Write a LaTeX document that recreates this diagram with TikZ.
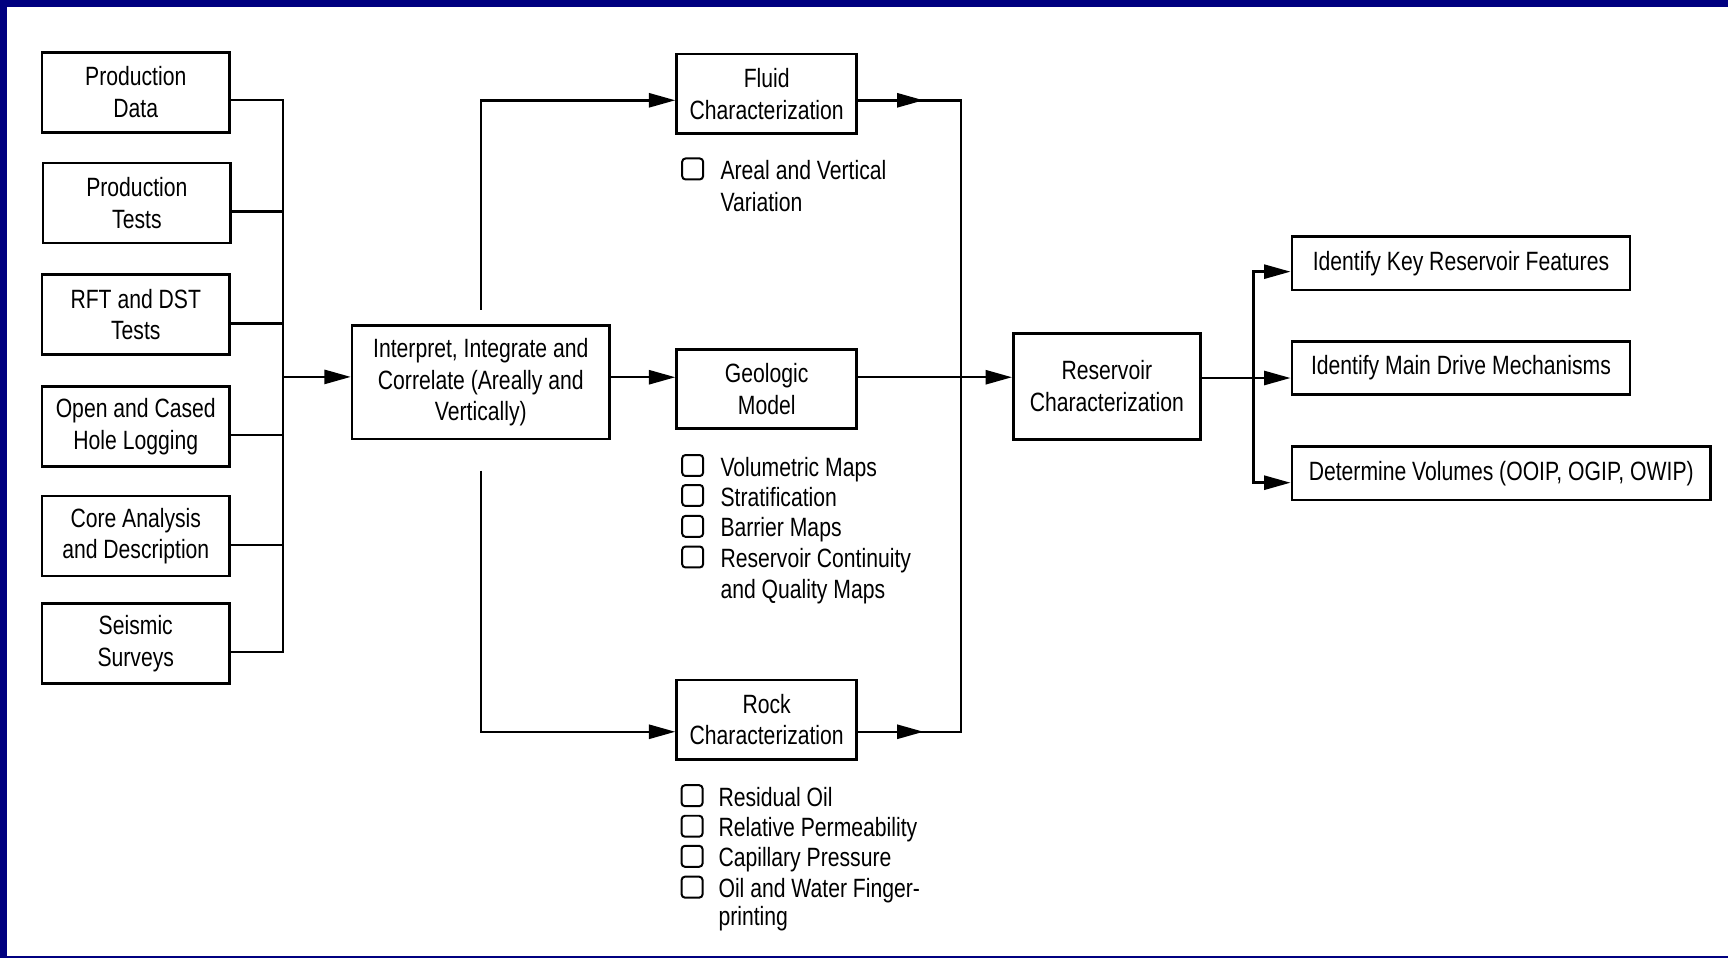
\documentclass[tikz,border=0pt]{standalone}
\usepackage{fontspec}
\setmainfont{Liberation Sans}[FakeStretch=0.8]
\usetikzlibrary{arrows.meta}
\definecolor{frameblue}{RGB}{0,0,128}
\tikzset{
  box/.style={draw, line width=1.2pt, align=center, inner sep=2pt},
  srcbox/.style={box, minimum width=85.2pt, minimum height=36.3pt},
  stagebox/.style={box, minimum width=81.7pt, minimum height=36pt},
  goalbox/.style={box, anchor=west, minimum height=24.2pt, inner xsep=4pt},
  link/.style={line width=1.1pt},
  arr/.style={link, -{Triangle[length=12pt,width=6.4pt]}},
  chk/.style={draw, line width=0.9pt, rounded corners=1.5pt, minimum size=9.5pt, inner sep=0pt},
  item/.style={anchor=base west, inner sep=0pt}
}
\begin{document}
\begin{tikzpicture}[x=0.5pt,y=-0.5pt,font=\fontsize{12}{14.4}\selectfont]
    \useasboundingbox (0,0) rectangle (1568,869);
    % frame
    \fill[frameblue] (0,0) rectangle (1568,6.3);
    \fill[frameblue] (0,0) rectangle (6.3,869);
    \fill[frameblue] (0,867.2) rectangle (1568,869);

    % Data sources
    \node[srcbox] (proddata) at (123.2,83.7) {Production\\Data};
    \node[srcbox] (prodtest) at (124.2,184.2) {Production\\Tests};
    \node[srcbox] (rft) at (123.2,285.4) {RFT and DST\\Tests};
    \node[srcbox] (logging) at (123.2,386.9) {Open and Cased\\Hole Logging};
    \node[srcbox] (core) at (123.2,486.4) {Core Analysis\\and Description};
    \node[srcbox] (seismic) at (123.2,583.8) {Seismic\\Surveys};

    % Interpretation and characterization stages
    \node[box, minimum width=116.8pt, minimum height=51.5pt] (interp) at (436.3,347) {Interpret, Integrate and\\Correlate (Areally and\\Vertically)};
    \node[stagebox] (fluid) at (695.7,85) {Fluid\\Characterization};
    \node[stagebox] (geo) at (695.7,353.1) {Geologic\\Model};
    \node[stagebox] (rock) at (695.7,653) {Rock\\Characterization};
    \node[box, minimum width=84.8pt, minimum height=48.1pt] (res) at (1004.3,350.6) {Reservoir\\Characterization};

    % Goals
    \node[goalbox, minimum width=153.5pt] (key) at (1171,238.8) {Identify Key Reservoir Features};
    \node[goalbox, minimum width=153.5pt] (drive) at (1171,333.8) {Identify Main Drive Mechanisms};
    \node[goalbox, minimum width=190pt] (vol) at (1171,429.4) {Determine Volumes (OOIP, OGIP, OWIP)};

    % Bus from the data sources
    \coordinate (bus1) at (257,90.7);
    \coordinate (bus2) at (257,192);
    \coordinate (bus3) at (257,293.4);
    \coordinate (bus4) at (257,394.7);
    \coordinate (bus5) at (257,494.6);
    \coordinate (bus6) at (257,591.4);
    \coordinate (busmid) at (257,342);
    \draw[link] (bus1 -| proddata.east) -- (bus1) -- (bus6) -- (bus6 -| seismic.east);
    \draw[link] (bus2 -| prodtest.east) -- (bus2);
    \draw[link] (bus3 -| rft.east) -- (bus3);
    \draw[link] (bus4 -| logging.east) -- (bus4);
    \draw[link] (bus5 -| core.east) -- (bus5);
    \draw[arr] (busmid) -- (busmid -| interp.west);

    % Branches to the stages
    \coordinate (upA) at (436.5,281);
    \coordinate (fllvl) at (436.5,91);
    \coordinate (dnA) at (436.5,427);
    \coordinate (rklvl) at (436.5,664);
    \coordinate (midlvl) at (436.5,342.3);
    \draw[arr] (upA) -- (fllvl) -- (fllvl -| fluid.west);
    \draw[arr] (dnA) -- (rklvl) -- (rklvl -| rock.west);
    \draw[arr] (interp.east |- midlvl) -- (midlvl -| geo.west);

    % Stages into reservoir characterization
    \coordinate (fltip) at (838,91);
    \coordinate (flcorner) at (872,91);
    \coordinate (rkcorner) at (872,664);
    \coordinate (rktip) at (838,664);
    \draw[link] (fluid.east |- fllvl) -- (flcorner) -- (rkcorner) -- (rock.east |- rklvl);
    \draw[arr] (fluid.east |- fllvl) -- (fltip);
    \draw[arr] (rock.east |- rklvl) -- (rktip);
    \draw[arr] (geo.east |- midlvl) -- (midlvl -| res.west);

    % Reservoir characterization to goals
    \coordinate (resout) at (1137.5,343);
    \coordinate (rb1) at (1137.5,246.5);
    \coordinate (rb3) at (1137.5,438);
    \draw[arr] (res.east |- resout) -- (resout -| drive.west);
    \draw[arr] (resout) -- (rb1) -- (rb1 -| key.west);
    \draw[arr] (resout) -- (rb3) -- (rb3 -| vol.west);

    % Check lists
    \node[chk] (fl1) at (628.5,153.3) {};
    \node[item] (fltxt1) at (653.4,163.3) {Areal and Vertical};
    \node[item] (fltxt2) at (653.4,192) {Variation};

    \node[chk] (ge1) at (628.5,422.4) {};
    \node[chk] (ge2) at (628.5,449.6) {};
    \node[chk] (ge3) at (628.5,477.6) {};
    \node[chk] (ge4) at (628.5,505.4) {};
    \node[item] (getxt1) at (653.4,432) {Volumetric Maps};
    \node[item] (getxt2) at (653.4,459.5) {Stratification};
    \node[item] (getxt3) at (653.4,487) {Barrier Maps};
    \node[item] (getxt4) at (653.4,515) {Reservoir Continuity};
    \node[item] (getxt5) at (653.4,542.7) {and Quality Maps};

    \node[chk] (rk1) at (628,722) {};
    \node[chk] (rk2) at (628,749.7) {};
    \node[chk] (rk3) at (628,777) {};
    \node[chk] (rk4) at (628,805) {};
    \node[item] (rktxt1) at (651.6,731.5) {Residual Oil};
    \node[item] (rktxt2) at (651.6,759.2) {Relative Permeability};
    \node[item] (rktxt3) at (651.6,786.5) {Capillary Pressure};
    \node[item] (rktxt4) at (651.6,814.6) {Oil and Water Finger-};
    \node[item] (rktxt5) at (651.6,840) {printing};
  \end{tikzpicture}
\end{document}
